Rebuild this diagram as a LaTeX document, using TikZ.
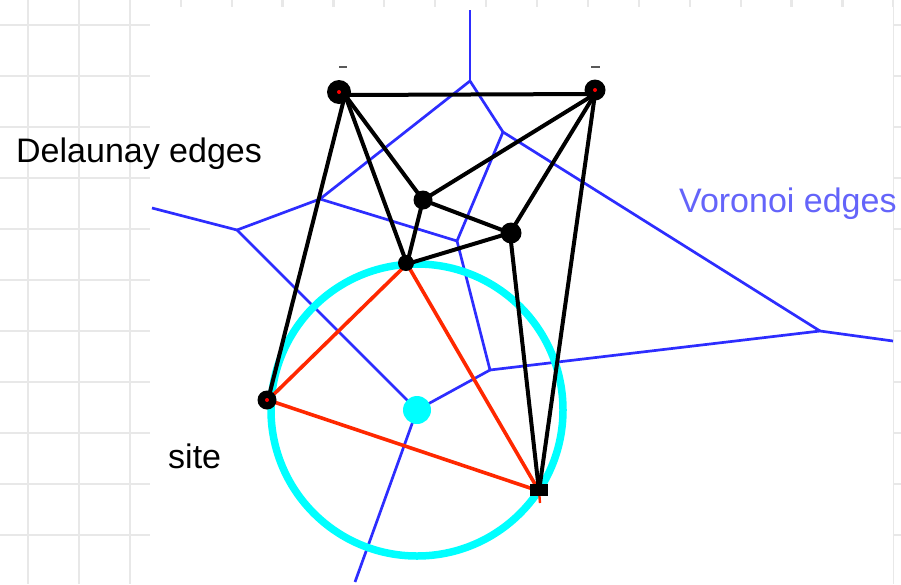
\documentclass[tikz,border=0pt]{standalone}
\usepackage{fontspec}
\setmainfont{Liberation Sans}
\definecolor{gridc}{RGB}{232,232,232}
\definecolor{vor}{RGB}{45,45,255}
\definecolor{vortext}{RGB}{100,100,250}
\definecolor{redc}{RGB}{255,40,0}
\definecolor{cyanc}{RGB}{0,255,255}
\begin{document}
\begin{tikzpicture}[x=1pt,y=-1pt,
  gridline/.style={draw=gridc,line width=2.2pt},
  vedge/.style={draw=vor,line width=2.7pt},
  dedge/.style={draw=black,line width=4pt},
  redge/.style={draw=redc,line width=3.6pt},
  sitemark/.style={circle,fill=black,inner sep=0pt,minimum size=19pt},
  sitesq/.style={rectangle,fill=black,inner sep=0pt,minimum width=18pt,minimum height=12pt},
  lbl/.style={inner sep=0pt,anchor=base west,font=\fontsize{34}{40}\selectfont}]
\useasboundingbox (0,0) rectangle (901,584);
% background grid
\foreach \i in {0,...,17} \draw[gridline] ({28+50.9*\i},0) -- ({28+50.9*\i},584);
\foreach \j in {0,...,10} \draw[gridline] (0,{25+51*\j}) -- (901,{25+51*\j});
\fill[white] (150,7) rectangle (893,584);
% sites (positions)
\coordinate (A) at (345,95);
\coordinate (B) at (595,94);
\coordinate (C) at (423,200);
\coordinate (D) at (510,233);
\coordinate (E) at (407,264);
\coordinate (F) at (268,400);
\coordinate (G) at (539,491);
% voronoi vertices and free ends
\coordinate (V1) at (470,81);
\coordinate (V1t) at (470,10);
\coordinate (V9) at (503,132);
\coordinate (V8) at (820,331);
\coordinate (V8r) at (893,341);
\coordinate (V7) at (490,370);
\coordinate (V6) at (417,410);
\coordinate (V6b) at (355,582);
\coordinate (V5) at (457,241);
\coordinate (V4) at (320,199);
\coordinate (V3) at (237,230);
\coordinate (V3l) at (152,208);
% voronoi edges
\draw[vedge] (V1) -- (V1t);
\draw[vedge] (V1) -- (V4);
\draw[vedge] (V1) -- (V9);
\draw[vedge] (V9) -- (V8);
\draw[vedge] (V9) -- (V5);
\draw[vedge] (V5) -- (V4);
\draw[vedge] (V5) -- (V7);
\draw[vedge] (V4) -- (V3);
\draw[vedge] (V3) -- (V3l);
\draw[vedge] (V3) -- (V6);
\draw[vedge] (V6) -- (V6b);
\draw[vedge] (V6) -- (V7);
\draw[vedge] (V7) -- (V8);
\draw[vedge] (V8) -- (V8r);
% empty circle
\draw[cyanc,line width=7.5pt] (V6) circle[radius=146];
% red triangle
\draw[redge] (E) -- (F);
\draw[redge] (E) -- (G);
\draw[redge] (F) -- (G);
\coordinate (Gt) at (540,503);
\draw[redc,line width=2.4pt] (G) -- (Gt);
% delaunay edges
\draw[dedge] (A) -- (B);
\draw[dedge] (A) -- (C);
\draw[dedge] (A) -- (E);
\draw[dedge] (A) -- (F);
\draw[dedge] (B) -- (C);
\draw[dedge] (B) -- (D);
\draw[dedge] (B) -- (G);
\draw[dedge] (C) -- (D);
\draw[dedge] (C) -- (E);
\draw[dedge] (E) -- (D);
\draw[dedge] (D) -- (G);
% site marks
\node[sitemark,minimum width=24pt] (sA) at (339,92) {};
\node[sitemark,minimum size=21pt] (sB) at (595,90) {};
\node[sitemark] (sC) at (423,200) {};
\node[sitemark,minimum size=21pt] (sD) at (511,233) {};
\node[sitemark,minimum size=16pt] (sE) at (406,263) {};
\node[sitemark] (sF) at (267,400) {};
\node[sitesq] (sG) at (539,490) {};
\fill[red] (sA.center) circle[radius=2];
\fill[red] (sB.center) circle[radius=2];
\fill[red] (sF.center) circle[radius=2];
% small marks above top sites
\coordinate (mA1) at (339,67); \coordinate (mA2) at (347,67);
\coordinate (mB1) at (591,67); \coordinate (mB2) at (600,67);
\draw[gray!70!black,line width=1.5pt] (mA1) -- (mA2);
\draw[gray!70!black,line width=1.5pt] (mB1) -- (mB2);
% circumcentre
\node[circle,fill=cyanc,inner sep=0pt,minimum size=28pt] (cc) at (V6) {};
% labels
\node[lbl] (ld) at (16,162) {Delaunay edges};
\node[lbl,text=vortext] (lv) at (679,212) {Voronoi edges};
\node[lbl] (ls) at (168,468) {site};
\end{tikzpicture}
\end{document}
